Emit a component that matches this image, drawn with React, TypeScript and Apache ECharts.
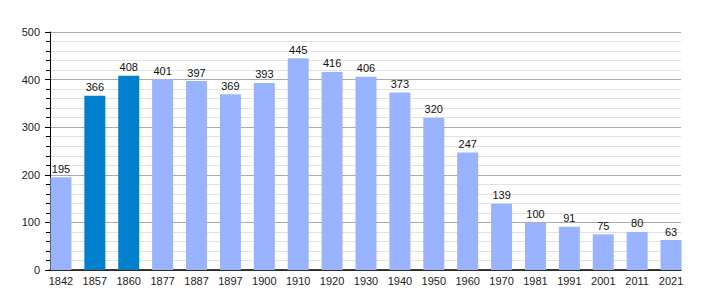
import React, { useEffect, useRef } from "react";
import * as echarts from "echarts";

const years = ["1842","1857","1860","1877","1887","1897","1900","1910","1920","1930","1940","1950","1960","1970","1981","1991","2001","2011","2021"];
const population = [195,366,408,401,397,369,393,445,416,406,373,320,247,139,100,91,75,80,63];
const highlighted = ["1857","1860"];
const yTicks = [0,100,200,300,400,500];

const LIGHT = "#99B3FF";
const DARK = "#0080CC";

export default function App() {
  const ref = useRef<HTMLDivElement>(null);
  useEffect(() => {
    document.body.style.margin = "0";
    const chart = echarts.init(ref.current!, null, { renderer: "svg" });
    const font = "'Liberation Sans', Arial, sans-serif";
    chart.setOption({
      animation: false,
      grid: [
        { left: 50, top: 32, width: 631, height: 238 },
        { left: 44, top: 32, width: 644, height: 238 },
      ],
      xAxis: [
        {
          gridIndex: 0, type: "value", min: 0, max: 1,
          axisLine: { show: true, lineStyle: { color: "#000", width: 1.5 } },
          axisTick: { show: false }, axisLabel: { show: false }, splitLine: { show: false },
        },
        {
          gridIndex: 1, type: "category", data: years,
          axisLine: { show: false }, axisTick: { show: false },
          axisLabel: { fontSize: 11, color: "#222", fontFamily: font, margin: 5, interval: 0 },
        },
      ],
      yAxis: [
        {
          gridIndex: 0, type: "value", min: yTicks[0], max: yTicks[yTicks.length - 1], interval: 100,
          axisLine: { show: true, lineStyle: { color: "#000", width: 1 } },
          axisTick: { show: true, length: 5, lineStyle: { color: "#000" } },
          minorTick: { show: true, splitNumber: 5, length: 4, lineStyle: { color: "#000" } },
          splitLine: { show: true, lineStyle: { color: "#AAAAAA", width: 1 } },
          minorSplitLine: { show: true, lineStyle: { color: "#E2E2E2", width: 1 } },
          axisLabel: { fontSize: 11, color: "#222", fontFamily: font, margin: 10 },
        },
        {
          gridIndex: 1, type: "value", min: yTicks[0], max: yTicks[yTicks.length - 1], show: false,
        },
      ],
      series: [
        {
          type: "bar", xAxisIndex: 1, yAxisIndex: 1, barWidth: 21,
          data: population.map((v, i) => ({
            value: v,
            itemStyle: { color: highlighted.includes(years[i]) ? DARK : LIGHT },
          })),
          label: { show: true, position: "top", distance: 3, fontSize: 11, color: "#111", fontFamily: font },
        },
      ],
    });
    return () => chart.dispose();
  }, []);
  return <div ref={ref} style={{ width: 710, height: 300 }} />;
}
